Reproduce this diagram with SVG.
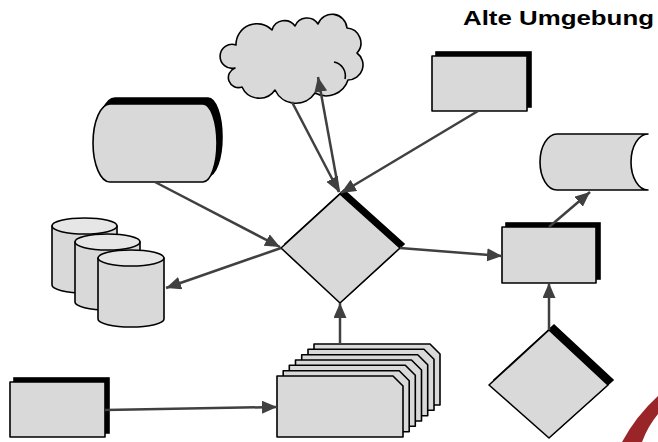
<svg xmlns="http://www.w3.org/2000/svg" width="658" height="442" viewBox="0 0 658 442">
<style>
.n{fill:#d9d9d9;stroke:#000;stroke-width:1.6;stroke-linejoin:round}
.sh{fill:#000;stroke:#000;stroke-width:1.6}
.top{fill:#e6e6e6;stroke:#000;stroke-width:1.6}
.c{fill:none;stroke:#404040;stroke-width:2.5;marker-end:url(#ah)}
.t{font-family:"Liberation Sans",Arial,sans-serif;font-weight:bold;font-size:20px;fill:#000}
</style>
<defs>
<marker id="ah" markerUnits="userSpaceOnUse" markerWidth="16" markerHeight="14" refX="15" refY="6.5" orient="auto">
<path d="M0,0 L15,6.5 L0,13 Z" fill="#404040"/>
</marker>
<path id="card" d="M0,0 L116,0 L126,10 L126,61 L0,61 Z"/>
</defs>
<rect width="658" height="442" fill="#fff"/>
<path d="M622,442 Q636,416 658,396 L658,414 Q648,426 642,442 Z" fill="#9a2528"/>
<text class="t" x="463" y="25" textLength="191" lengthAdjust="spacingAndGlyphs">Alte Umgebung</text>

<g id="cloud">
<path class="n" d="M235,68 A12,12 0 1 1 236,45 A21,21 0 0 1 272,30 A13,13 0 0 1 295,26 A13,13 0 0 1 318,24 A15,15 0 0 1 347,28 A15,15 0 0 1 357,53 A15,15 0 0 1 348,80 A23,23 0 0 1 315,93 A23,23 0 0 1 275,90 A19,19 0 0 1 242,87 A10,10 0 0 1 235,68 Z"/>
<path d="M334,62 A14,14 0 0 1 345,79" fill="none" stroke="#000" stroke-width="1.6"/>
</g>

<g id="rect-top">
<rect class="sh" x="436" y="52" width="95" height="55"/>
<rect class="n" x="432" y="56" width="95" height="55"/>
</g>

<g id="display">
<path class="sh" transform="translate(5,-6)" d="M110,104 L203,104 A14,39 0 0 1 203,182 L110,182 A17,39 0 0 1 110,104 Z"/>
<path class="n" d="M110,104 L203,104 A14,39 0 0 1 203,182 L110,182 A17,39 0 0 1 110,104 Z"/>
</g>

<g id="cylinders">
<path class="n" d="M52,226 L52,285 A32.5,8 0 0 0 117,285 L117,226 Z"/>
<ellipse class="top" cx="84.5" cy="226" rx="32.5" ry="8"/>
<path class="n" d="M75,242 L75,302 A32.5,8 0 0 0 140,302 L140,242 Z"/>
<ellipse class="top" cx="107.5" cy="242" rx="32.5" ry="8"/>
<path class="n" d="M98,258 L98,319 A33,8 0 0 0 164,319 L164,258 Z"/>
<ellipse class="top" cx="131" cy="258" rx="33" ry="8"/>
</g>

<g id="decision-main">
<polygon class="sh" points="344,190 404,244 344,299 285,244"/>
<polygon class="n" points="340,194 400,248 340,303 281,248"/>
</g>

<g id="storage">
<path class="n" d="M557,134 L648,134 A17,28 0 0 0 648,190 L557,190 A17,28 0 0 1 557,134 Z"/>
</g>

<g id="rect-right">
<rect class="sh" x="506" y="223" width="94" height="56"/>
<rect class="n" x="502" y="227" width="94" height="56"/>
</g>

<g id="decision-bottom">
<polygon class="sh" points="554,325 613,380 554,433 494,380"/>
<polygon class="n" points="549,330 608,385 549,438 489,385"/>
</g>

<g id="cards">
<use href="#card" class="n" x="314" y="344"/>
<use href="#card" class="n" x="308" y="349.3"/>
<use href="#card" class="n" x="301.7" y="354.7"/>
<use href="#card" class="n" x="295.5" y="360"/>
<use href="#card" class="n" x="289.3" y="365.3"/>
<use href="#card" class="n" x="283.2" y="370.7"/>
<use href="#card" class="n" x="277" y="376"/>
</g>

<g id="rect-bottom-left">
<rect class="sh" x="14" y="378" width="95" height="55"/>
<rect class="n" x="10" y="382" width="95" height="55"/>
</g>

<g id="connectors">
<line class="c" x1="292" y1="102" x2="339" y2="192"/>
<line class="c" x1="339" y1="192" x2="318" y2="77"/>
<line class="c" x1="478" y1="111" x2="341" y2="193"/>
<line class="c" x1="155" y1="182" x2="280" y2="247"/>
<line class="c" x1="281" y1="248" x2="166" y2="288"/>
<line class="c" x1="400" y1="248" x2="502" y2="256"/>
<line class="c" x1="549" y1="227" x2="590" y2="192"/>
<line class="c" x1="549" y1="330" x2="549" y2="283"/>
<line class="c" x1="340" y1="344" x2="340" y2="303"/>
<line class="c" x1="105" y1="410" x2="277" y2="407"/>
</g>
</svg>
